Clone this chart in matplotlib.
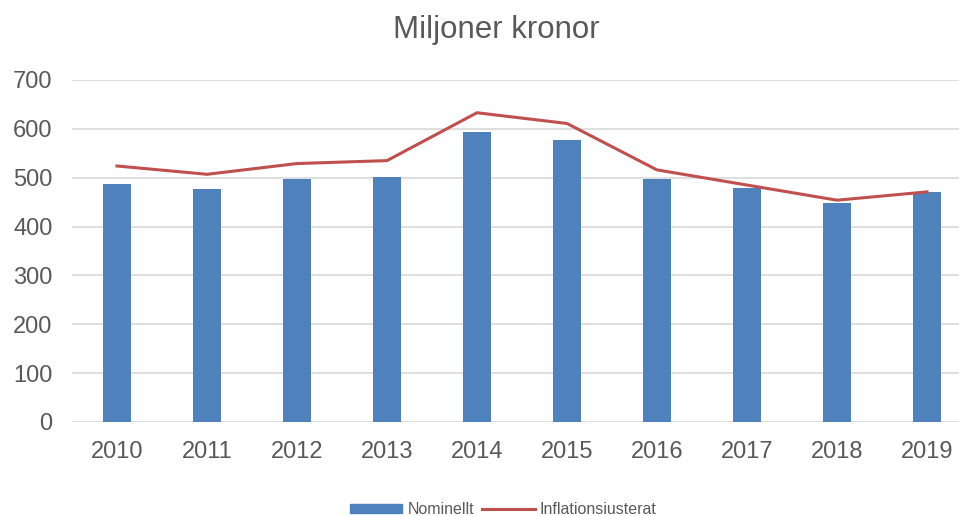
import matplotlib
matplotlib.use("Agg")
import matplotlib.pyplot as plt
from matplotlib.lines import Line2D
from matplotlib.patches import Patch

years = ["2010", "2011", "2012", "2013", "2014", "2015", "2016", "2017", "2018", "2019"]
nominellt = [487, 477, 497, 502, 593, 577, 497, 478, 449, 471]
inflationsjusterat = [524, 507, 529, 535, 633, 611, 516, 485, 454, 471]
y_ticks = [0, 100, 200, 300, 400, 500, 600, 700]

BLUE = "#4F81BD"
RED = "#C0504D"
TEXT = "#595959"
GRID = "#D9D9D9"

plt.rcParams["font.family"] = ["Liberation Sans", "DejaVu Sans"]

fig = plt.figure(figsize=(9.59, 5.16), dpi=100)
# plot area spans x 72..972 px, y 80..422 px (right edge cropped in the original)
ax = fig.add_axes([72 / 959, (516 - 422) / 516, 900 / 959, 342 / 516])

x = range(len(years))
ax.bar(x, nominellt, width=0.31, color=BLUE, zorder=2)
ax.plot(x, inflationsjusterat, color=RED, linewidth=2.2, zorder=3)

ax.set_xlim(-0.5, len(years) - 0.5)
ax.set_ylim(0, 700)
ax.set_yticks(y_ticks)
ax.set_xticks(list(x))
ax.set_xticklabels(years)
ax.tick_params(axis="both", length=0, labelsize=17, colors=TEXT)
ax.tick_params(axis="y", pad=14)
ax.tick_params(axis="x", pad=13.5)
ax.grid(axis="y", color=GRID, linewidth=1.2, zorder=0)
for side in ("top", "right", "left", "bottom"):
    ax.spines[side].set_visible(False)

fig.text(496 / 959, 1 - 30 / 516, "Miljoner kronor", ha="center", va="center",
         fontsize=22.5, color=TEXT)

handles = [
    Patch(facecolor=BLUE, edgecolor=BLUE),
    Line2D([0], [0], color=RED, linewidth=2.2),
]
fig.legend(handles, ["Nominellt", "Inflationsiusterat"], loc="center",
           bbox_to_anchor=(503 / 959, 1 - 510 / 516), ncol=2, frameon=False,
           fontsize=11.5, labelcolor=TEXT, handlelength=3.3, handleheight=0.5,
           handletextpad=0.3, columnspacing=0.5)

fig.savefig("out.png", dpi=100)
